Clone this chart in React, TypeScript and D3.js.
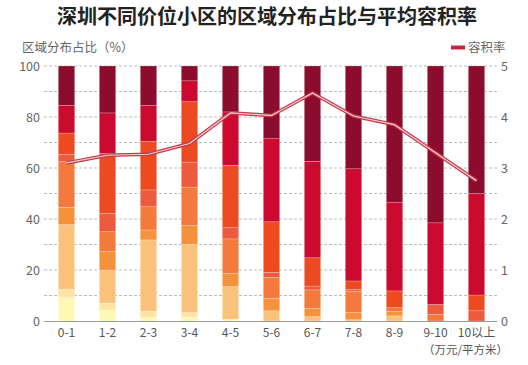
import React, { useEffect, useRef } from 'react';
import * as d3 from 'd3';

const categories = ['0-1', '1-2', '2-3', '3-4', '4-5', '5-6', '6-7', '7-8', '8-9', '9-10', '10以上'];

// stacked segments, bottom to top (share of communities, %)
const seriesKeys = ['s1', 's2', 's3', 's4', 's5', 's6', 's7', 's8', 's9'];
const seriesColors = ['#fdf9b4', '#fde4a3', '#fbc27c', '#f6923b', '#f4793d', '#ec5b3e', '#ee4a22', '#cc0a2f', '#8b0c2c'];

const segmentValues: number[][] = [
  [9.2, 3.3, 25.3, 6.8, 17.9, 2.9, 8.3, 10.9, 15.4],
  [4.3, 2.7, 13.0, 7.2, 7.8, 7.2, 23.5, 15.9, 18.4],
  [1.5, 2.4, 27.9, 3.9, 9.1, 6.6, 19.1, 14.0, 15.5],
  [1.5, 1.8, 26.8, 7.3, 15.1, 9.8, 23.7, 8.2, 5.8],
  [0.7, 0, 12.8, 5.2, 13.5, 4.4, 24.4, 21.0, 18.0],
  [0, 0, 4.0, 4.9, 8.2, 2.0, 19.8, 32.6, 28.5],
  [0, 0, 1.7, 3.3, 7.2, 1.5, 11.1, 37.8, 37.4],
  [0, 0, 0.5, 2.8, 8.4, 0.7, 3.3, 44.0, 40.3],
  [0, 0, 2.0, 1.7, 1.5, 0, 6.6, 34.8, 53.4],
  [0, 0, 0, 0, 2.6, 3.9, 0, 32.0, 61.5],
  [0, 0, 0, 0, 0, 4.0, 6.2, 39.8, 50.0],
];

const plotRatio = [3.1, 3.25, 3.27, 3.48, 4.08, 4.03, 4.47, 4.02, 3.85, 3.3, 2.75];

const leftTicks = [0, 20, 40, 60, 80, 100];
const rightTicks = [0, 1, 2, 3, 4, 5];
const gridTicks = [10, 20, 30, 40, 50, 60, 70, 80, 90, 100];

const FONT = '"Noto Sans CJK SC", "Noto Sans", sans-serif';

const App: React.FC = () => {
  const svgRef = useRef<SVGSVGElement>(null);

  useEffect(() => {
    if (!svgRef.current) return;
    const svg = d3.select(svgRef.current);
    svg.selectAll('*').remove();

    const left = 46;
    const right = 497;
    const top = 66;
    const bottom = 321;

    const x = d3.scaleBand<string>()
      .domain(categories)
      .range([left, right])
      .paddingInner(0.6)
      .paddingOuter(0.3);

    const y = d3.scaleLinear().domain([0, 100]).range([bottom, top]);
    const y2 = d3.scaleLinear().domain([0, 5]).range([bottom, top]);

    // title
    svg.append('text')
      .attr('x', 267)
      .attr('y', 24)
      .attr('text-anchor', 'middle')
      .attr('font-family', FONT)
      .attr('font-size', 20)
      .attr('font-weight', 'bold')
      .attr('fill', '#222')
      .text('深圳不同价位小区的区域分布占比与平均容积率');

    svg.append('text')
      .attr('x', 22)
      .attr('y', 52)
      .attr('font-family', FONT)
      .attr('font-size', 12.5)
      .attr('fill', '#666')
      .text('区域分布占比（%）');

    // legend
    svg.append('line')
      .attr('x1', 451).attr('x2', 465)
      .attr('y1', 47.5).attr('y2', 47.5)
      .attr('stroke', '#c8283c')
      .attr('stroke-width', 4);
    svg.append('text')
      .attr('x', 468)
      .attr('y', 52)
      .attr('font-family', FONT)
      .attr('font-size', 12.5)
      .attr('fill', '#666')
      .text('容积率');

    // grid
    svg.append('g')
      .selectAll('line')
      .data(gridTicks)
      .join('line')
      .attr('x1', left - 2)
      .attr('x2', right)
      .attr('y1', d => y(d))
      .attr('y2', d => y(d))
      .attr('stroke', '#bbb')
      .attr('stroke-width', 1)
      .attr('stroke-dasharray', '3,2');

    // stacked bars
    const rows = categories.map((c, i) => {
      const row: Record<string, any> = { category: c };
      seriesKeys.forEach((k, j) => { row[k] = segmentValues[i][j]; });
      return row;
    });
    const stacked = d3.stack<Record<string, any>>().keys(seriesKeys)(rows);

    svg.append('g')
      .selectAll('g')
      .data(stacked)
      .join('g')
      .attr('fill', (_d, i) => seriesColors[i])
      .selectAll('rect')
      .data(d => d.filter(s => s[1] - s[0] > 0))
      .join('rect')
      .attr('x', d => x(d.data.category as string)!)
      .attr('width', x.bandwidth())
      .attr('y', d => y(d[1]))
      .attr('height', d => y(d[0]) - y(d[1]))
      .attr('stroke', 'rgba(255,255,255,0.35)')
      .attr('stroke-width', 0.6);

    // bottom axis line
    svg.append('line')
      .attr('x1', left - 2)
      .attr('x2', right)
      .attr('y1', bottom + 0.5)
      .attr('y2', bottom + 0.5)
      .attr('stroke', '#999')
      .attr('stroke-width', 1.2);

    // tick labels
    svg.append('g')
      .selectAll('text')
      .data(leftTicks)
      .join('text')
      .attr('x', 40)
      .attr('y', d => y(d) + 4.5)
      .attr('text-anchor', 'end')
      .attr('font-family', FONT)
      .attr('font-size', 12.5)
      .attr('fill', '#666')
      .text(d => d);

    svg.append('g')
      .selectAll('text')
      .data(rightTicks)
      .join('text')
      .attr('x', 501)
      .attr('y', d => y2(d) + 4.5)
      .attr('font-family', FONT)
      .attr('font-size', 12.5)
      .attr('fill', '#666')
      .text(d => d);

    svg.append('g')
      .selectAll('text')
      .data(categories)
      .join('text')
      .attr('x', d => x(d)! + x.bandwidth() / 2)
      .attr('y', 337)
      .attr('text-anchor', 'middle')
      .attr('font-family', FONT)
      .attr('font-size', 12)
      .attr('fill', '#555')
      .text(d => d);

    svg.append('text')
      .attr('x', 508)
      .attr('y', 354)
      .attr('text-anchor', 'end')
      .attr('font-family', FONT)
      .attr('font-size', 11.5)
      .attr('fill', '#555')
      .text('（万元/平方米）');

    // plot ratio line
    const line = d3.line<number>()
      .x((_d, i) => x(categories[i])! + x.bandwidth() / 2)
      .y(d => y2(d));

    svg.append('path')
      .datum(plotRatio)
      .attr('d', line)
      .attr('fill', 'none')
      .attr('stroke', '#c43a4e')
      .attr('stroke-width', 3.6)
      .attr('stroke-linejoin', 'round');

    svg.append('path')
      .datum(plotRatio)
      .attr('d', line)
      .attr('fill', 'none')
      .attr('stroke', '#f8cdd2')
      .attr('stroke-width', 1.2)
      .attr('stroke-linejoin', 'round');
  }, []);

  return (
    <svg
      ref={svgRef}
      width={528}
      height={365}
      style={{ position: 'absolute', left: 0, top: 0, background: '#fff' }}
    />
  );
};

export default App;
